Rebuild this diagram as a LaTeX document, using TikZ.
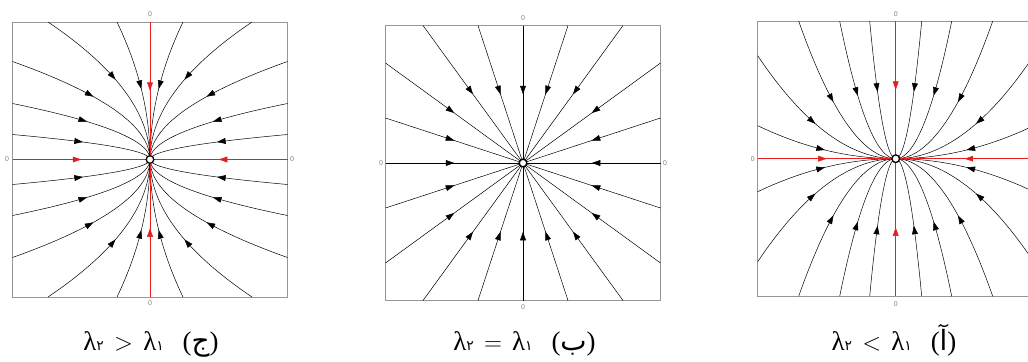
\documentclass[tikz,border=0pt]{standalone}
\usepackage{fontspec}
\setmainfont{Liberation Serif}
\newfontfamily\arabicfont[Script=Arabic]{DejaVu Sans}
\newfontfamily\axisfont{Liberation Sans}
\usetikzlibrary{arrows.meta,decorations.markings}
\definecolor{flowred}{RGB}{230,30,30}
\definecolor{boxgray}{RGB}{150,150,150}
\definecolor{zerogray}{RGB}{130,130,130}
\newcommand\persub[1]{{\fontsize{14}{14}\selectfont\arabicfont #1}}
\newcommand\perletter[1]{{\fontsize{28}{28}\selectfont\arabicfont #1}}
\tikzset{
  flow/.style={line width=0.5bp, postaction={decorate},
    decoration={markings, mark=at position 0.5 with {\arrow{Triangle[length=8.5bp,width=5.8bp]}}}},
  framebox/.style={draw=boxgray, line width=0.7bp},
  zerolabel/.style={font=\axisfont\fontsize{7}{8}\selectfont, text=zerogray, inner sep=0pt},
  eqpoint/.style={circle, draw=black, fill=white, line width=1.2bp, minimum size=7.5bp, inner sep=0pt},
  caption/.style={font=\fontsize{27}{30}\selectfont, inner sep=0pt, anchor=base}
}
\begin{document}
\begin{tikzpicture}[x=1bp,y=-1bp]
\useasboundingbox (0,0) rectangle (1028,361);
\clip (0,0) rectangle (1028,361);
\fill[white] (0,0) rectangle (1028,361);
% ---------- panel 1 (lambda2 > lambda1) ----------
\begin{scope}[shift={(150,159.5)}]
  \draw[framebox] (-137.5,-137.5) rectangle (137.5,137.5);
  \foreach \sx in {-1,1}{\foreach \sy in {-1,1}{
    \foreach \yy in {25,56,98}{
      \draw[flow] plot[domain=1:0,samples=40,variable=\t] ({\sx*137.5*\t*\t},{\sy*\yy*\t});}
    \foreach \xx in {33,102}{
      \draw[flow] plot[domain=1:0,samples=40,variable=\t] ({\sx*\xx*\t*\t},{\sy*137.5*\t});}
  }}
  \coordinate (p1l) at (-137.5,0); \coordinate (p1r) at (137.5,0);
  \coordinate (p1t) at (0,-137.5); \coordinate (p1b) at (0,137.5);
  \node[eqpoint] (c1) at (0,0) {};
  \foreach \e in {p1l,p1r,p1t,p1b}{\draw[flow,flowred] (\e) -- (c1.center);}
  \node[eqpoint] at (0,0) {};
  \node[zerolabel] (z1t) at (0,-145) {0};
  \node[zerolabel] (z1b) at (0,143.5) {0};
  \node[zerolabel] (z1l) at (-143,0) {0};
  \node[zerolabel] (z1r) at (142,0) {0};
\end{scope}
% ---------- panel 2 (lambda2 = lambda1) ----------
\begin{scope}[shift={(523,163)}]
  \draw[framebox] (-137.5,-137.5) rectangle (137.5,137.5);
  \node[eqpoint] (c2) at (0,0) {};
  \foreach \sx in {-1,1}{\foreach \sy in {-1,1}{
    \foreach \yy in {45,100}{
      \draw[flow] ({\sx*137.5},{\sy*\yy}) -- (c2.center);}
    \foreach \xx in {45,100}{
      \draw[flow] ({\sx*\xx},{\sy*137.5}) -- (c2.center);}
  }}
  \coordinate (p2l) at (-137.5,0); \coordinate (p2r) at (137.5,0);
  \coordinate (p2t) at (0,-137.5); \coordinate (p2b) at (0,137.5);
  \foreach \e in {p2l,p2r,p2t,p2b}{\draw[flow] (\e) -- (c2.center);}
  \node[eqpoint] at (0,0) {};
  \node[zerolabel] (z2t) at (0,-145) {0};
  \node[zerolabel] (z2b) at (0,144) {0};
  \node[zerolabel] (z2l) at (-142,0) {0};
  \node[zerolabel] (z2r) at (142,0) {0};
\end{scope}
% ---------- panel 3 (lambda2 < lambda1) ----------
\begin{scope}[shift={(895.7,158.7)}]
  \draw[framebox] (-138,-137.5) rectangle (138,137.5);
  \foreach \sx in {-1,1}{\foreach \sy in {-1,1}{
    \foreach \yy in {33,103}{
      \draw[flow] plot[domain=1:0,samples=40,variable=\t] ({\sx*138*\t},{\sy*\yy*\t*\t});}
    \foreach \xx in {26,56,97}{
      \draw[flow] plot[domain=1:0,samples=40,variable=\t] ({\sx*\xx*\t},{\sy*137.5*\t*\t});}
  }}
  \coordinate (p3l) at (-138,0); \coordinate (p3r) at (138,0);
  \coordinate (p3t) at (0,-137.5); \coordinate (p3b) at (0,137.5);
  \node[eqpoint] (c3) at (0,0) {};
  \foreach \e in {p3l,p3r,p3t,p3b}{\draw[flow,flowred] (\e) -- (c3.center);}
  \node[eqpoint] at (0,0) {};
  \node[zerolabel] (z3t) at (0,-145) {0};
  \node[zerolabel] (z3b) at (0,145) {0};
  \node[zerolabel] (z3l) at (-143,0) {0};
\end{scope}
% ---------- captions ----------
\node[caption] (cap1) at (151,350) {λ\persub{۲}\hspace{0.38em}$>$\hspace{0.38em}λ\persub{۱}\hspace{0.7em}(\perletter{ج})};
\node[caption] (cap2) at (524.5,350) {λ\persub{۲}\hspace{0.38em}$=$\hspace{0.38em}λ\persub{۱}\hspace{0.7em}(\perletter{ب})};
\node[caption] (cap3) at (894,350) {λ\persub{۲}\hspace{0.38em}$<$\hspace{0.38em}λ\persub{۱}\hspace{0.7em}(\perletter{آ})};
\end{tikzpicture}
\end{document}
